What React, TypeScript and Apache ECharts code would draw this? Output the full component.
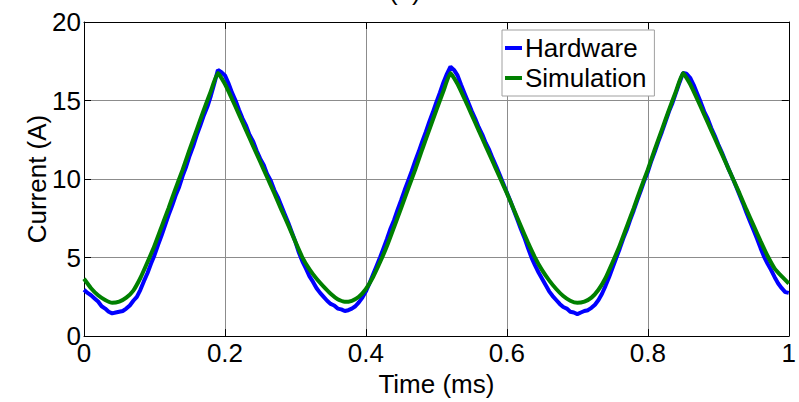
import React, { useEffect, useRef } from "react";
import * as echarts from "echarts";

// Sampling intervals (ms) of the two traces
const SIM_STEP = 0.01;
const HW_STEP = 0.005;

// Simulation current (A), one value every 0.01 ms from 0 to 1 ms
const simulationValues = [
  3.65, 3.05, 2.6, 2.3, 2.12, 2.2, 2.45, 2.9, 3.7, 4.7, 5.75, 6.95, 8.15, 9.4, 10.6, 11.9, 13.15, 14.4, 15.6, 16.75,
  16.05, 15.1, 14.1, 13.1, 12.1, 11.1, 10.1, 9.1, 8.05, 7.05, 6.0, 5.0, 4.25, 3.65, 3.15, 2.7, 2.35, 2.18,
  2.25, 2.5, 3.0, 3.75, 4.7, 5.75, 6.95, 8.15, 9.4, 10.6, 11.9, 13.15, 14.4, 15.6, 16.75,
  16.05, 15.1, 14.1, 13.1, 12.1, 11.1, 10.1, 9.1, 8.05, 7.0, 5.95, 5.0, 4.2, 3.55, 3.0, 2.55, 2.25, 2.12,
  2.2, 2.45, 2.95, 3.7, 4.7, 5.75, 6.95, 8.15, 9.4, 10.6, 11.9, 13.15, 14.4, 15.6, 16.75,
  16.05, 15.1, 14.1, 13.1, 12.1, 11.1, 10.1, 9.1, 8.05, 7.05, 6.05, 5.1, 4.3, 3.8, 3.35,
];

// Hardware current (A), one value every 0.005 ms from 0 to 1 ms
const hardwareValues = [
  2.95, 2.75, 2.6, 2.4, 2.2, 1.9, 1.75, 1.55, 1.45, 1.5, 1.55, 1.6, 1.75, 1.95, 2.25, 2.5, 2.95, 3.5, 4.0, 4.6,
  5.15, 5.8, 6.4, 7.05, 7.7, 8.3, 8.95, 9.5, 10.2, 10.8, 11.5, 12.1, 12.8, 13.4, 14.05, 14.6, 15.3, 16.1, 16.95, 16.8,
  16.6, 16.1, 15.5, 15.0, 14.4, 13.85, 13.4, 12.8, 12.4, 11.8, 11.3, 10.9, 10.3, 9.9, 9.3, 8.85, 8.3, 7.75, 7.2, 6.6,
  6.0, 5.3, 4.75, 4.3, 3.8, 3.45, 3.05, 2.75, 2.5, 2.25, 2.05, 1.95, 1.75, 1.7, 1.6, 1.65, 1.75, 1.9, 2.15, 2.45,
  2.85, 3.35, 3.9, 4.45, 5.0, 5.6, 6.2, 6.85, 7.4, 8.05, 8.65, 9.3, 9.9, 10.5, 11.15, 11.75, 12.4, 13.0, 13.65, 14.25,
  14.9, 15.5, 16.15, 16.7, 17.15, 16.95, 16.6, 16.0, 15.45, 14.9, 14.35, 13.85, 13.3, 12.85, 12.3, 11.85, 11.3, 10.8, 10.25, 9.7,
  9.15, 8.6, 8.0, 7.4, 6.8, 6.25, 5.6, 5.0, 4.5, 4.05, 3.65, 3.25, 2.85, 2.55, 2.3, 2.05, 1.85, 1.75, 1.55, 1.5,
  1.4, 1.5, 1.6, 1.65, 1.8, 2.0, 2.3, 2.7, 3.2, 3.75, 4.35, 4.95, 5.55, 6.2, 6.75, 7.4, 8.0, 8.65, 9.25, 9.9,
  10.45, 11.15, 11.75, 12.4, 13.0, 13.65, 14.3, 14.85, 15.5, 16.15, 16.75, 16.7, 16.45, 16.0, 15.45, 14.9, 14.3, 13.85, 13.25, 12.75,
  12.2, 11.7, 11.15, 10.6, 10.1, 9.55, 9.0, 8.45, 7.85, 7.3, 6.75, 6.2, 5.6, 5.05, 4.6, 4.2, 3.75, 3.35, 3.05, 2.8,
  2.75,
];

const seriesNames = ["Hardware", "Simulation"];
const xTicks = { min: 0, max: 1, interval: 0.2 };
const yTicks = { min: 0, max: 20, interval: 5 };
const titleText = "(a)";
const xName = "Time (ms)";
const yName = "Current (A)";

const FONT = "Liberation Sans, Arial, sans-serif";

export default function App() {
  const ref = useRef<HTMLDivElement>(null);
  useEffect(() => {
    if (!ref.current) return;
    const chart = echarts.init(ref.current, null, { renderer: "svg" });
    const simData = simulationValues.map((v, i) => [+(i * SIM_STEP).toFixed(4), v]);
    const hwData = hardwareValues.map((v, i) => [+(i * HW_STEP).toFixed(4), v]);
    const tickStyle = { inside: true, length: 7, lineStyle: { color: "#000", width: 1 } };
    const axisLine = { show: true, onZero: false, lineStyle: { color: "#000", width: 1 } };
    chart.setOption({
      animation: false,
      backgroundColor: "#fff",
      textStyle: { fontFamily: FONT },
      grid: { left: 84, top: 22, right: 4, bottom: 60, containLabel: false },
      graphic: [
        {
          type: "text",
          x: 389,
          y: 4,
          style: {
            text: titleText,
            fontSize: 26,
            fontFamily: FONT,
            fill: "#000",
            textVerticalAlign: "bottom",
          },
        },
      ],
      legend: {
        data: seriesNames,
        orient: "vertical",
        left: 502,
        top: 30,
        padding: [5, 8, 5, 3],
        itemGap: 4,
        itemWidth: 17,
        itemHeight: 4,
        icon: "rect",
        backgroundColor: "#fff",
        borderColor: "#a0a0a0",
        borderWidth: 1,
        borderRadius: 0,
        textStyle: { fontSize: 26, color: "#000", fontFamily: FONT, padding: [0, 0, 0, -2] },
      },
      xAxis: [
        {
          type: "value",
          position: "bottom",
          ...xTicks,
          name: xName,
          nameLocation: "middle",
          nameGap: 23,
          nameTextStyle: { fontSize: 26, color: "#000", fontFamily: FONT, verticalAlign: "top" },
          axisLine,
          axisTick: tickStyle,
          axisLabel: { fontSize: 26, color: "#000", margin: 4, fontFamily: FONT },
          splitLine: { show: true, lineStyle: { color: "#8c8c8c", width: 1 } },
        },
        {
          type: "value",
          position: "top",
          ...xTicks,
          axisLine,
          axisTick: tickStyle,
          axisLabel: { show: false },
          splitLine: { show: false },
        },
      ],
      yAxis: [
        {
          type: "value",
          position: "left",
          ...yTicks,
          name: yName,
          nameLocation: "middle",
          nameGap: 34,
          nameMoveOverlap: false,
          nameRotate: 90,
          nameTextStyle: { fontSize: 26, color: "#000", fontFamily: FONT },
          axisLine,
          axisTick: tickStyle,
          axisLabel: { fontSize: 26, color: "#000", margin: 3, fontFamily: FONT },
          splitLine: { show: true, lineStyle: { color: "#8c8c8c", width: 1 } },
        },
        {
          type: "value",
          position: "right",
          ...yTicks,
          axisLine,
          axisTick: tickStyle,
          axisLabel: { show: false },
          splitLine: { show: false },
        },
      ],
      series: [
        {
          name: seriesNames[0],
          type: "line",
          data: hwData,
          showSymbol: false,
          symbol: "none",
          lineStyle: { color: "#0000ff", width: 4 },
          itemStyle: { color: "#0000ff" },
          z: 2,
        },
        {
          name: seriesNames[1],
          type: "line",
          data: simData,
          showSymbol: false,
          symbol: "none",
          smooth: 0.15,
          lineStyle: { color: "#008000", width: 4 },
          itemStyle: { color: "#008000" },
          z: 3,
        },
      ],
    });
    return () => chart.dispose();
  }, []);
  return (
    <div
      ref={ref}
      style={{ position: "fixed", left: 0, top: 0, width: 799, height: 402, background: "#fff" }}
    />
  );
}
